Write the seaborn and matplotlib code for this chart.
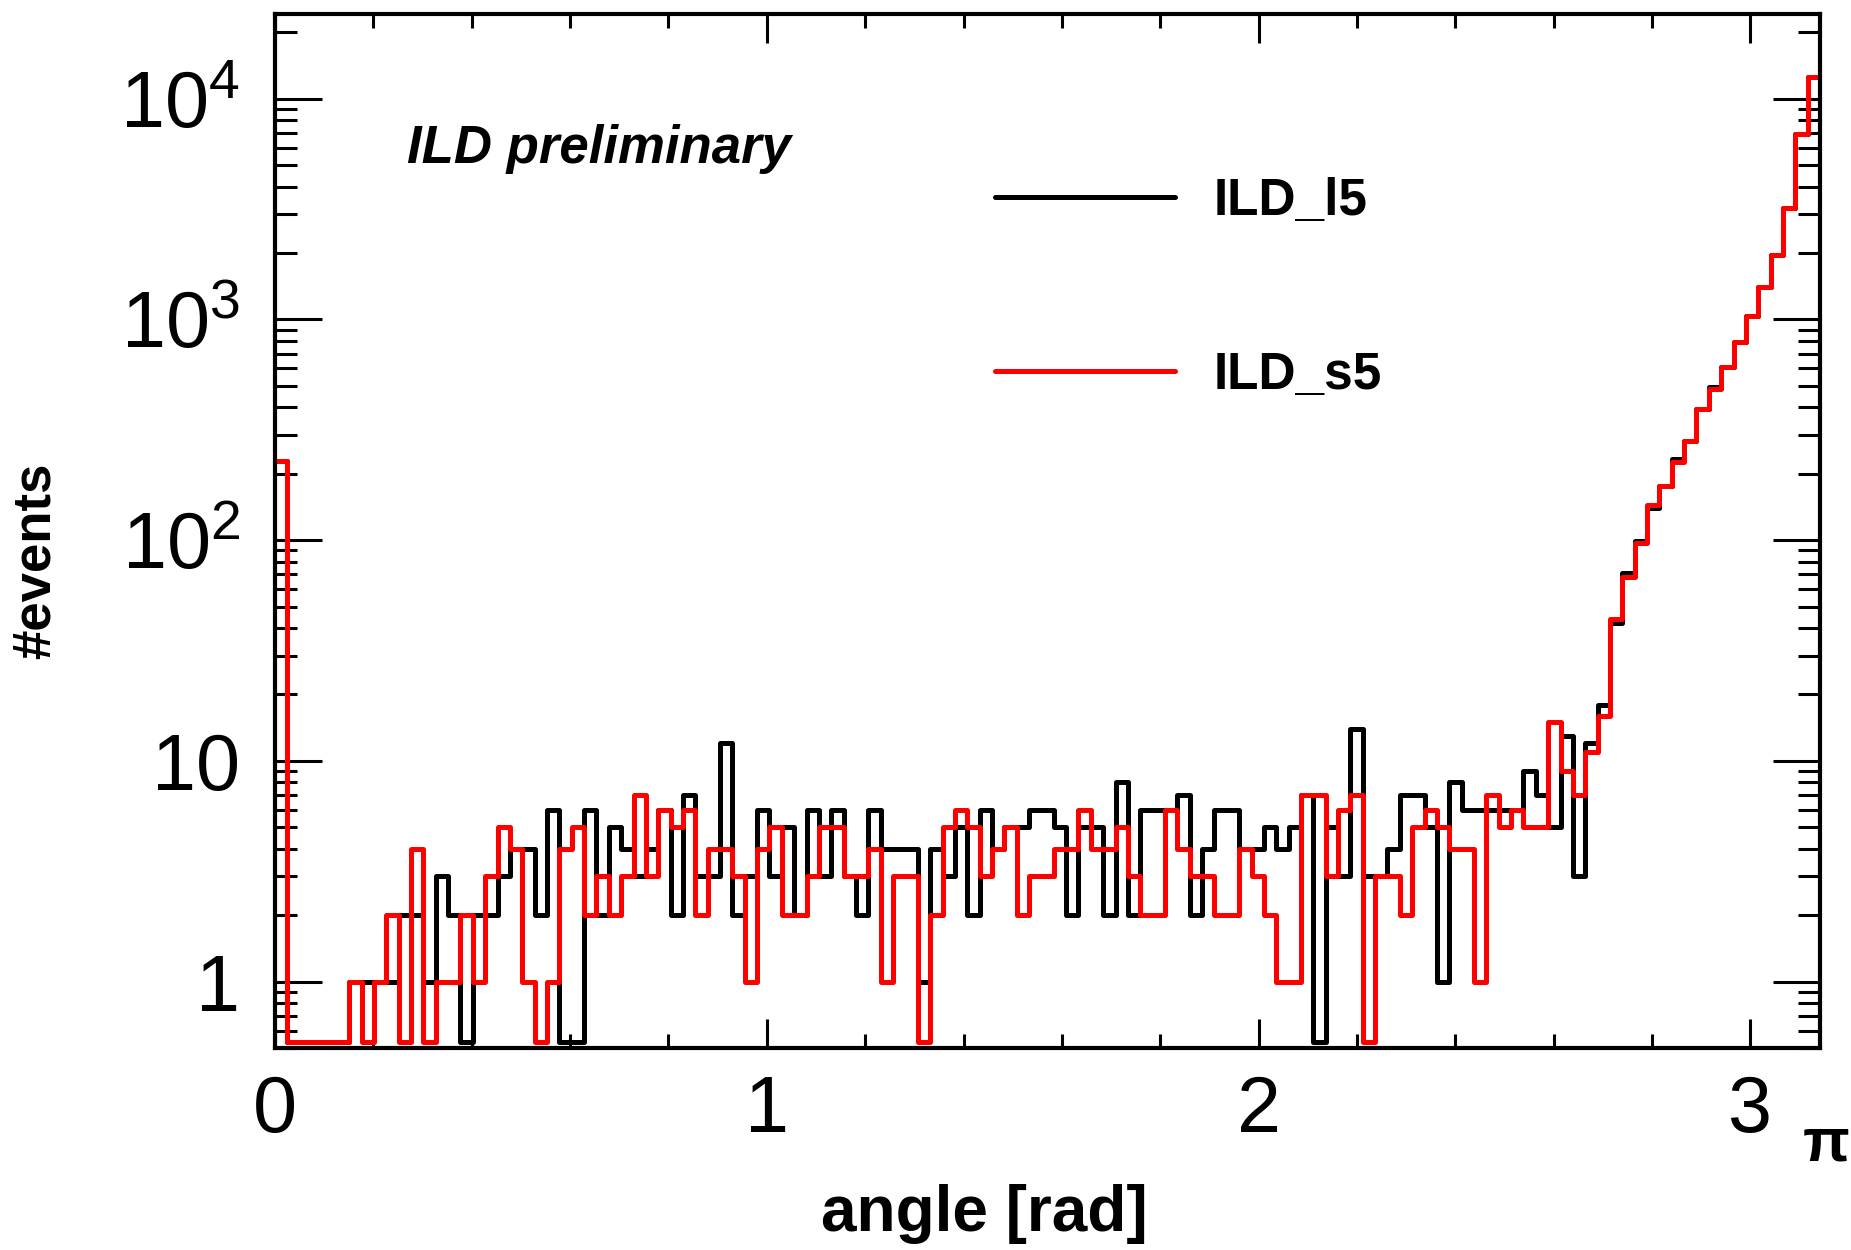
import numpy as np
import pandas as pd
import matplotlib
matplotlib.use("Agg")
import matplotlib.pyplot as plt
import seaborn as sns
from matplotlib.ticker import FixedLocator, MultipleLocator, LogLocator, NullFormatter

# 125 bins from 0 to pi, counts
n_bins = 125

ild_l5 = [228, 0, 0, 0, 0, 0, 1, 1, 1, 1,
          2, 2, 1, 3, 2, 0, 2, 2, 3, 4,
          4, 2, 6, 0, 0, 6, 2, 5, 4, 3,
          4, 6, 2, 7, 3, 3, 12, 2, 3, 6,
          3, 5, 2, 6, 3, 6, 3, 2, 6, 4,
          4, 4, 1, 4, 3, 5, 2, 6, 4, 5,
          5, 6, 6, 5, 2, 5, 5, 2, 8, 2,
          6, 6, 6, 7, 2, 4, 6, 6, 4, 4,
          5, 4, 5, 7, 0, 5, 3, 14, 3, 3,
          4, 7, 7, 5, 1, 8, 6, 6, 6, 6,
          6, 9, 7, 5, 13, 3, 12, 18, 42, 71,
          99, 140, 175, 232, 282, 394, 493, 608, 792, 1038,
          1403, 1962, 3214, 6886, 12600]

ild_s5 = [228, 0, 0, 0, 0, 0, 1, 0, 1, 2,
          0, 4, 0, 1, 1, 2, 1, 3, 5, 4,
          1, 0, 1, 4, 5, 2, 3, 2, 3, 7,
          3, 6, 5, 6, 2, 4, 4, 3, 1, 4,
          5, 2, 2, 3, 5, 5, 3, 3, 4, 1,
          3, 3, 0, 2, 5, 6, 5, 3, 4, 5,
          2, 3, 3, 4, 4, 6, 4, 4, 5, 3,
          2, 2, 6, 4, 3, 3, 2, 2, 4, 3,
          2, 1, 1, 7, 7, 3, 6, 7, 0, 3,
          3, 2, 5, 6, 5, 4, 4, 1, 7, 5,
          6, 5, 5, 15, 9, 7, 11, 16, 44, 68,
          97, 145, 175, 226, 282, 394, 482, 608, 792, 1038,
          1403, 1962, 3214, 6886, 12600]

y_tick_values = [1, 10, 100, 1000, 10000]
y_tick_labels = ["1", "10", "$10^{2}$", "$10^{3}$", "$10^{4}$"]
x_tick_values = [0, 1, 2, 3]
x_tick_labels = ["0", "1", "2", "3"]

sns.set_theme(style="ticks")
plt.rcParams['font.family'] = ['Liberation Sans', 'DejaVu Sans']
plt.rcParams['mathtext.fontset'] = 'custom'
plt.rcParams['mathtext.rm'] = 'Liberation Sans'
plt.rcParams['mathtext.it'] = 'Liberation Sans:italic'
plt.rcParams['mathtext.bf'] = 'Liberation Sans:bold'
for key in ['text.color', 'axes.labelcolor', 'xtick.color', 'ytick.color', 'axes.edgecolor']:
    plt.rcParams[key] = 'black'

edges = np.linspace(0, np.pi, n_bins + 1)
y_floor = 0.53  # empty bins are drawn along the bottom of the frame, like ROOT


def step_frame(counts):
    vals = np.array(counts, dtype=float)
    vals = np.where(vals > 0, vals, y_floor)
    return pd.DataFrame({'angle': edges, 'events': np.append(vals, vals[-1])})


fig = plt.figure(figsize=(18.51, 12.5), dpi=100)
ax = fig.add_axes([0.1486, 0.1616, 0.8347, 0.8272])

sns.lineplot(data=step_frame(ild_l5), x='angle', y='events', drawstyle='steps-post',
             color='black', linewidth=3.6, estimator=None, label='ILD_l5', ax=ax)
sns.lineplot(data=step_frame(ild_s5), x='angle', y='events', drawstyle='steps-post',
             color='#ff0000', linewidth=3.6, estimator=None, label='ILD_s5', ax=ax)

ax.set_yscale('log')
ax.set_xlim(0, np.pi)
ax.set_ylim(0.5, 24200)

ax.xaxis.set_major_locator(FixedLocator(x_tick_values))
ax.set_xticklabels(x_tick_labels)
ax.xaxis.set_minor_locator(MultipleLocator(0.2))
ax.yaxis.set_major_locator(FixedLocator(y_tick_values))
ax.set_yticklabels(y_tick_labels)
ax.yaxis.set_minor_locator(LogLocator(base=10, subs=np.arange(2, 10)))
ax.yaxis.set_minor_formatter(NullFormatter())

for s in ax.spines.values():
    s.set_linewidth(3)
    s.set_color('black')

ax.tick_params(which='both', direction='in', top=True, right=True, colors='black')
ax.tick_params(axis='x', which='major', length=21, width=2.2, labelsize=57, pad=19)
ax.tick_params(axis='x', which='minor', length=10, width=2.2)
ax.tick_params(axis='y', which='major', length=34, width=2.2, labelsize=57, pad=25)
ax.tick_params(axis='y', which='minor', length=16, width=2.2)

ax.set_xlabel('angle [rad]', fontsize=46, fontweight='bold')
ax.xaxis.label.set_va('center')
ax.xaxis.set_label_coords(0.459, -0.161)
ax.set_ylabel('#events', fontsize=38, fontweight='bold')
ax.yaxis.label.set_va('center')
ax.yaxis.set_label_coords(-0.155, 0.471)

fig.text(1826 / 1851, 1 - 1145 / 1250, 'π', fontsize=44, fontweight='bold',
         ha='center', va='center')
fig.text(407 / 1851, 1 - 163 / 1250, 'ILD preliminary', fontsize=38,
         fontweight='bold', fontstyle='italic', ha='left', va='baseline')

ax.legend(loc='upper left', bbox_to_anchor=(995 / 1851, 1 - 177 / 1250),
          bbox_transform=fig.transFigure, frameon=False,
          prop={'weight': 'bold', 'size': 37}, handlelength=3.5,
          handletextpad=0.75, labelspacing=2.44, borderpad=0, borderaxespad=0)

fig.savefig('out.png', dpi=100)
